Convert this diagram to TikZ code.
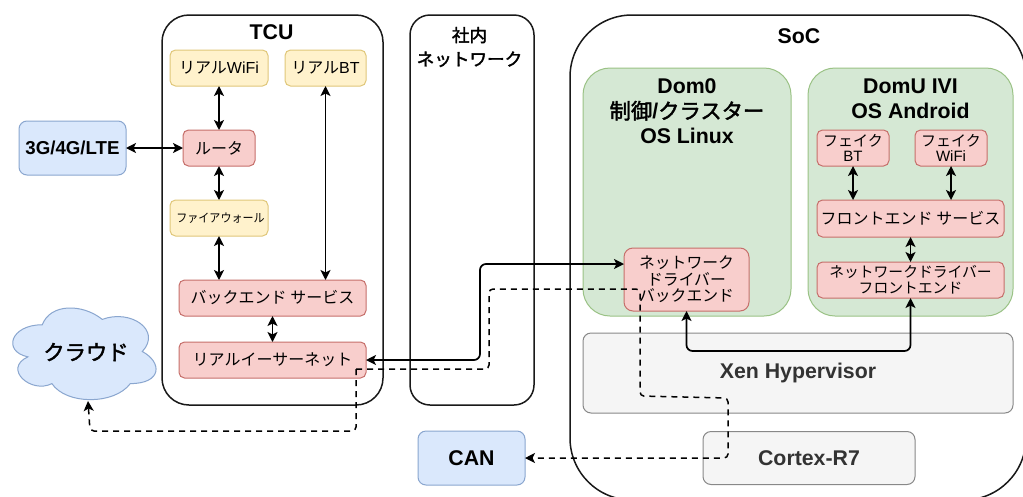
\documentclass[tikz,border=0pt]{standalone}
\usepackage{fontspec}
\setmainfont{Liberation Sans}
\newfontfamily\jpf{Noto Sans CJK JP}
\newfontfamily\jpbf[FakeBold=2]{Noto Sans CJK JP}
\newfontfamily\jpcf[FakeStretch=0.92]{Noto Sans CJK JP}
\newcommand{\jp}[1]{{\jpf #1}}
\newcommand{\jpt}[1]{{\mdseries\jpbf #1}}
\usetikzlibrary{arrows.meta,calc}
\definecolor{bluef}{HTML}{DAE8FC}\definecolor{blued}{HTML}{8AA6CF}
\definecolor{redf}{HTML}{F8CECC}\definecolor{redd}{HTML}{C66F6B}
\definecolor{yelf}{HTML}{FFF2CC}\definecolor{yeld}{HTML}{E0C77A}
\definecolor{grnf}{HTML}{D5E8D4}\definecolor{grnd}{HTML}{9AC285}
\definecolor{gryf}{HTML}{F5F5F5}\definecolor{gryd}{HTML}{888888}
\definecolor{gryt}{HTML}{333333}
\tikzset{
  x=1pt,y=-1pt,
  box/.style={draw,rounded corners=5.5pt,inner sep=0pt,outer sep=0pt,align=center,line width=1pt,font=\fontsize{16}{18}\selectfont},
  redbox/.style={box,fill=redf,draw=redd},
  yelbox/.style={box,fill=yelf,draw=yeld},
  bluebox/.style={box,fill=bluef,draw=blued,rounded corners=8pt,font=\fontsize{21.3}{25}\selectfont\bfseries},
  grybox/.style={box,fill=gryf,draw=gryd,rounded corners=8pt,text=gryt,font=\fontsize{21.3}{25}\selectfont\bfseries},
  frame/.style={draw=black!90,line width=1.5pt,inner sep=0pt,outer sep=0pt},
  dom/.style={draw=grnd,fill=grnf,line width=1pt,inner sep=0pt,outer sep=0pt,rounded corners=27pt},
  title/.style={inner sep=0pt,align=center,font=\fontsize{21.3}{25}\selectfont\bfseries},
  wire/.style={line width=1.7pt,{Stealth[length=10pt,width=10pt,inset=2.5pt]}-{Stealth[length=10pt,width=10pt,inset=2.5pt]}},
  dashwire/.style={line width=1.5pt,dash pattern=on 6pt off 5pt,rounded corners=4pt,-{Stealth[length=10pt,width=10pt,inset=2.5pt]}},
}
\begin{document}
\begin{tikzpicture}
\useasboundingbox (0,0) rectangle (1023,496);
\clip (0,0) rectangle (1023,496);
\fill[white] (0,0) rectangle (1023,496);
% frames
\node[frame,rounded corners=27pt,minimum width=221pt,minimum height=390pt] (tcu) at (272.5,210) {};
\node[frame,rounded corners=20pt,minimum width=124pt,minimum height=390pt] (net) at (472,210) {};
\node[frame,rounded corners=62pt,minimum width=456pt,minimum height=485pt] (soc) at (798,257.5) {};
\node[title] (tcut) at (271.5,32) {TCU};
\node[title,font=\fontsize{17.6}{24}\selectfont\bfseries] (nett) at (469.5,47) {\jpt{社内}\\\jpt{ネットワーク}};
\node[title] (soct) at (799,36) {SoC};
% domains
\node[dom,minimum width=208pt,minimum height=248pt] (dom0) at (687,192) {};
\node[dom,minimum width=205pt,minimum height=248pt] (domu) at (910.5,192) {};
\node[title] (dom0t) at (687,111.5) {Dom0\\\jpt{制御}/\jpt{クラスター}\\OS Linux};
\node[title] (domut) at (910.5,99) {DomU IVI\\OS Android};
% TCU
\node[yelbox,minimum width=98pt,minimum height=36pt] (wifi) at (219,68) {\jp{リアル}WiFi};
\node[yelbox,minimum width=81pt,minimum height=36pt] (bt) at (325.5,68) {\jp{リアル}BT};
\node[redbox,minimum width=72pt,minimum height=36pt] (router) at (219,148) {\jp{ルータ}};
\node[yelbox,minimum width=98pt,minimum height=36pt,font=\fontsize{12}{14}\selectfont] (fw) at (219,218) {\hspace{3pt}{\jpcf ファイアウォール}};
\node[redbox,minimum width=187pt,minimum height=36pt] (back) at (272.5,298) {\jp{バックエンド サービス}};
\node[redbox,minimum width=187pt,minimum height=36pt] (eth) at (272.5,360) {\jp{リアルイーサーネット}};
% external
\node[bluebox,minimum width=107pt,minimum height=54pt,font=\fontsize{18.7}{22}\selectfont\bfseries] (lte) at (72.5,148) {3G/4G/LTE};
\node[bluebox,minimum width=107pt,minimum height=54pt] (can) at (471.5,458) {CAN};
\begin{scope}[shift={(2.3,298)},x=160pt,y=-107pt]
\draw[draw=blued,fill=bluef,line width=1pt]
 (.25,.25) .. controls (.05,.25) and (0,.5) .. (.16,.55)
 .. controls (0,.66) and (.18,.9) .. (.31,.8)
 .. controls (.4,1) and (.7,1) .. (.8,.8)
 .. controls (1,.8) and (1,.6) .. (.875,.5)
 .. controls (1,.3) and (.8,.1) .. (.625,.2)
 .. controls (.5,.05) and (.3,.05) .. (.25,.25) -- cycle;
\end{scope}
\node[title,inner sep=0pt] (cloud) at (86,352) {\jpt{クラウド}};
\coordinate (cloudb) at (88,401);
% SoC parts
\node[redbox,rounded corners=9pt,minimum width=125pt,minimum height=63pt,font=\fontsize{15.8}{16.5}\selectfont] (drv) at (686.5,279.5) {\jp{ネットワーク}\\\jp{ドライバー}\\\jp{バックエンド}};
\node[redbox,minimum width=72pt,minimum height=36pt,font=\fontsize{15}{15.5}\selectfont] (fbt) at (853,148) {\jp{フェイク}\\BT};
\node[redbox,minimum width=72pt,minimum height=36pt,font=\fontsize{15}{15.5}\selectfont] (fwifi) at (951,148) {\jp{フェイク}\\WiFi};
\node[redbox,minimum width=187pt,minimum height=37pt] (fsvc) at (910.5,218.5) {\jp{フロントエンド サービス}};
\node[redbox,minimum width=187pt,minimum height=36pt,font=\fontsize{14.8}{16.5}\selectfont] (nfe) at (910.5,280) {\jp{ネットワークドライバー}\\\jp{フロントエンド}};
\node[grybox,minimum width=430pt,minimum height=80pt] (xen) at (798,373) {Xen Hypervisor};
\node[grybox,minimum width=212pt,minimum height=53pt] (cortex) at (809,458) {Cortex-R7};
% connectors
\draw[wire] (wifi.south) -- (router.north);
\draw[wire] (router.south) -- (fw.north);
\draw[wire] (fw.south) -- (fw.south |- back.north);
\draw[wire] (bt.south) -- (bt.south |- back.north);
\draw[wire] (back.south) -- (eth.north);
\draw[wire] (lte.east) -- (router.west);
\draw[wire] (fbt.south) -- (fbt.south |- fsvc.north);
\draw[wire] (fwifi.south) -- (fwifi.south |- fsvc.north);
\draw[wire] (fsvc.south) -- (nfe.north);
\coordinate (drvin) at ([yshift=15.5pt]drv.west);
\coordinate (ethup) at (480,360);
\draw[wire,rounded corners=6pt] (eth.east) -- (ethup) -- (ethup |- drvin) -- (drvin);
\coordinate (lowbus) at (0,351);
\draw[wire,rounded corners=6pt] (drv.south) -- (drv.south |- lowbus) -- (nfe.south |- lowbus) -- (nfe.south);
\coordinate (d1) at (356,369);
\coordinate (d2) at (489,369);
\coordinate (d3) at (489,289);
\coordinate (d4) at (640,289);
\coordinate (d5) at (640,396);
\coordinate (d6) at (728,398);
\coordinate (d7) at (728,458);
\draw[dashwire] (d1) -- (d2) -- (d3) -- (d4) -- (d5) -- (d6) -- (d7) -- (can.east);
\coordinate (d8) at (356,431);
\coordinate (d9) at (90,431);
\draw[dashwire] (d1) -- (d8) -- (d9) -- (cloudb);
\end{tikzpicture}
\end{document}
